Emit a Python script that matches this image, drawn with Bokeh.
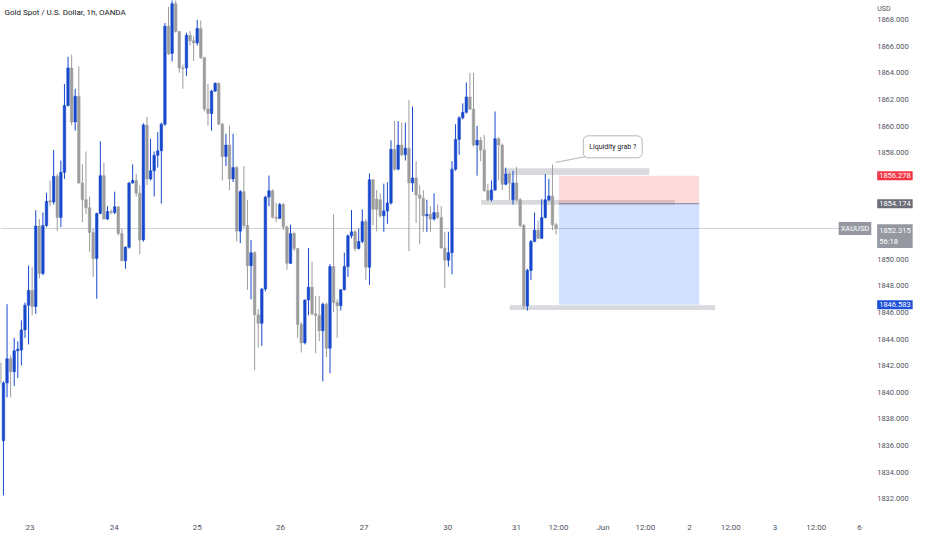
from bokeh.plotting import figure
from bokeh.models import Range1d, FixedTicker, ColumnDataSource
from bokeh.core.properties import value
from bokeh.embed import file_html
from bokeh.resources import INLINE

# ---------------- data (hourly XAUUSD candles) ----------------
opens = [
1842.2, 1836.36, 1840.70, 1842.52, 1841.55, 1843.12, 1843.17, 1844.69, 1846.55, 1847.66,
1846.45, 1852.49, 1848.92, 1852.54, 1854.40, 1854.30, 1856.24, 1853.14, 1856.53, 1861.55,
1864.38, 1860.32, 1862.25, 1855.73, 1854.47, 1853.87, 1852.01, 1850.05, 1853.43, 1856.28,
1853.02, 1853.58, 1853.51, 1853.94, 1851.94, 1849.88, 1850.90, 1855.73, 1855.92, 1854.96,
1851.45, 1860.08, 1856.04, 1856.65, 1857.81, 1858.15, 1860.15, 1867.52, 1865.46, 1869.21,
1867.11, 1864.38, 1864.38, 1866.84, 1866.43, 1866.26, 1867.35, 1865.15, 1861.29, 1860.95,
1862.64, 1863.22, 1860.15, 1857.73, 1858.58, 1856.04, 1856.89, 1852.11, 1855.08, 1852.54,
1849.52, 1850.49, 1845.83, 1845.18, 1847.76, 1854.67, 1855.15, 1853.15, 1853.07, 1854.11,
1852.42, 1849.69, 1851.94, 1850.80, 1845.10, 1843.72, 1846.94, 1847.90, 1845.90, 1845.78,
1844.62, 1846.62, 1843.31, 1849.45, 1846.74, 1846.50, 1847.71, 1849.45, 1851.77, 1852.06,
1850.80, 1851.33, 1852.83, 1849.40, 1855.97, 1854.52, 1854.47, 1853.26, 1853.63, 1854.23,
1858.26, 1856.77, 1858.58, 1857.85, 1858.34, 1855.73, 1856.11, 1854.83, 1854.59, 1853.26,
1853.38, 1853.02, 1853.51, 1853.14, 1850.85, 1849.93, 1850.49, 1856.77, 1859.01, 1860.63,
1861.04, 1862.20, 1861.28, 1858.58, 1858.94, 1858.22, 1855.15, 1854.47, 1855.20, 1859.06,
1858.58, 1855.63, 1856.40, 1854.47, 1855.73, 1854.47, 1852.54, 1846.50, 1849.16, 1851.33,
1852.18, 1851.57, 1853.14, 1854.47, 1854.76, 1852.59]

closes = [
1840.70, 1840.70, 1842.52, 1841.55, 1843.12, 1843.24, 1844.69, 1846.55, 1847.66, 1846.45,
1852.49, 1848.92, 1852.54, 1854.35, 1854.30, 1856.24, 1853.14, 1856.53, 1861.55, 1864.38,
1860.32, 1862.25, 1855.73, 1854.47, 1853.87, 1852.01, 1850.05, 1853.43, 1856.28, 1853.02,
1853.58, 1853.51, 1853.94, 1851.94, 1849.88, 1850.90, 1855.73, 1855.92, 1854.96, 1851.45,
1860.10, 1856.04, 1856.65, 1857.81, 1858.15, 1860.15, 1867.52, 1865.46, 1869.21, 1867.11,
1864.38, 1864.33, 1866.84, 1866.43, 1866.26, 1867.35, 1865.15, 1861.29, 1860.95, 1862.64,
1863.22, 1860.15, 1857.73, 1858.58, 1856.04, 1856.89, 1852.11, 1855.08, 1852.54, 1849.52,
1850.49, 1845.83, 1845.18, 1847.76, 1854.67, 1855.15, 1853.15, 1853.07, 1854.11, 1852.42,
1849.69, 1851.94, 1850.80, 1845.10, 1843.72, 1846.94, 1847.90, 1845.90, 1845.78, 1844.62,
1846.62, 1843.31, 1849.45, 1846.74, 1846.50, 1847.71, 1849.45, 1851.77, 1852.06, 1850.80,
1851.33, 1852.83, 1849.40, 1855.97, 1853.75, 1853.75, 1853.26, 1853.63, 1854.23, 1858.26,
1856.77, 1858.58, 1857.85, 1858.34, 1855.73, 1856.11, 1854.83, 1854.59, 1853.26, 1853.38,
1853.02, 1853.51, 1853.14, 1850.85, 1849.93, 1850.49, 1856.77, 1859.01, 1860.63, 1861.04,
1862.20, 1861.28, 1858.58, 1858.94, 1858.22, 1855.15, 1854.47, 1855.20, 1859.06, 1858.58,
1855.63, 1856.40, 1855.73, 1855.73, 1854.47, 1852.54, 1846.50, 1849.16, 1851.33, 1852.18,
1851.57, 1853.14, 1854.47, 1854.76, 1852.59, 1852.315]

highs = [
1842.40, 1840.82, 1846.62, 1842.76, 1844.09, 1843.84, 1845.41, 1846.74, 1849.52, 1849.40,
1853.68, 1853.02, 1853.51, 1855.00, 1855.92, 1858.22, 1856.41, 1857.42, 1863.17, 1865.22,
1865.39, 1862.81, 1864.50, 1857.13, 1858.10, 1854.71, 1852.30, 1853.51, 1858.87, 1857.25,
1853.99, 1853.75, 1855.08, 1853.99, 1852.30, 1850.97, 1855.80, 1857.13, 1856.41, 1855.56,
1860.22, 1860.71, 1859.06, 1858.10, 1859.55, 1860.27, 1867.76, 1868.97, 1869.90, 1869.70,
1867.16, 1864.62, 1867.03, 1867.16, 1866.79, 1868.00, 1867.95, 1865.22, 1863.17, 1862.74,
1863.29, 1863.29, 1860.27, 1859.43, 1860.03, 1859.43, 1857.01, 1855.20, 1857.01, 1854.47,
1851.45, 1850.61, 1846.26, 1847.83, 1854.76, 1856.29, 1855.25, 1854.23, 1854.23, 1854.23,
1852.54, 1852.59, 1852.06, 1850.85, 1845.29, 1846.98, 1850.85, 1849.83, 1847.23, 1847.23,
1846.74, 1846.74, 1849.64, 1853.38, 1846.98, 1847.76, 1850.49, 1851.86, 1853.70, 1852.18,
1852.30, 1853.75, 1853.02, 1856.45, 1856.04, 1855.20, 1854.95, 1855.68, 1855.80, 1858.94,
1860.39, 1860.39, 1860.27, 1860.27, 1861.96, 1861.48, 1857.37, 1855.56, 1855.20, 1854.47,
1853.99, 1854.95, 1854.11, 1853.99, 1852.06, 1852.06, 1857.37, 1860.15, 1860.75, 1861.72,
1863.29, 1864.01, 1864.01, 1860.03, 1859.18, 1859.35, 1855.68, 1855.92, 1861.11, 1859.18,
1858.70, 1856.89, 1856.53, 1856.65, 1856.94, 1854.59, 1852.66, 1849.28, 1851.45, 1853.51,
1852.90, 1854.52, 1856.40, 1856.04, 1857.13, 1852.73]

lows = [
1840.46, 1832.25, 1839.62, 1839.62, 1840.46, 1841.07, 1842.03, 1844.09, 1843.60, 1845.78,
1845.90, 1848.55, 1848.80, 1852.42, 1853.99, 1854.11, 1852.11, 1852.42, 1856.04, 1861.48,
1860.08, 1859.67, 1855.68, 1852.78, 1853.39, 1850.56, 1848.68, 1847.03, 1853.39, 1853.02,
1852.95, 1853.39, 1853.39, 1851.77, 1849.84, 1849.28, 1850.80, 1855.68, 1854.71, 1850.37,
1851.33, 1855.56, 1855.92, 1854.72, 1856.89, 1854.18, 1860.03, 1865.34, 1864.86, 1867.03,
1864.02, 1862.81, 1863.77, 1866.07, 1864.91, 1866.07, 1865.05, 1861.12, 1860.03, 1859.67,
1862.57, 1860.08, 1855.92, 1857.01, 1855.20, 1855.80, 1851.33, 1851.21, 1852.35, 1847.71,
1846.99, 1841.67, 1843.36, 1843.48, 1847.59, 1853.99, 1853.07, 1852.78, 1853.03, 1852.18,
1849.21, 1849.64, 1850.61, 1844.09, 1842.99, 1843.60, 1845.78, 1845.78, 1842.93, 1843.84,
1840.82, 1842.64, 1841.43, 1846.02, 1844.09, 1846.14, 1847.66, 1848.67, 1851.57, 1850.61,
1850.73, 1851.21, 1848.43, 1848.07, 1852.54, 1852.10, 1853.14, 1852.06, 1852.66, 1854.11,
1856.65, 1856.69, 1857.73, 1857.42, 1850.61, 1855.08, 1852.73, 1851.14, 1852.06, 1852.06,
1852.06, 1852.90, 1853.02, 1850.80, 1847.83, 1849.45, 1848.87, 1856.65, 1857.85, 1860.51,
1860.95, 1861.24, 1858.46, 1856.28, 1857.37, 1855.08, 1854.35, 1854.35, 1855.15, 1855.92,
1855.20, 1855.56, 1854.47, 1854.11, 1854.35, 1852.42, 1846.26, 1846.14, 1848.43, 1851.28,
1851.52, 1851.52, 1853.07, 1854.35, 1852.18, 1851.86]

# time axis labels (bar index where each label sits)
time_labels = ["23", "24", "25", "26", "27", "30", "31", "12:00", "Jun", "12:00", "2", "12:00", "3", "12:00", "6"]
time_label_bars = [8.4, 31.9, 55.0, 78.2, 101.5, 124.8, 144.0, 155.7, 168.1, 179.9, 192.2, 203.7, 216.0, 227.5, 239.6]

# price-scale tick labels (those hidden under price tags in the original are left out)
price_ticks = [1832, 1834, 1836, 1838, 1840, 1842, 1844, 1846, 1848, 1850, 1858, 1860, 1862, 1864, 1866, 1868]

# drawings: horizontal gray zones [left bar, right bar, top price, bottom price]
zone_left = [140.0, 134.1, 142.1]
zone_right = [181.0, 188.1, 199.3]
zone_top = [1856.84, 1854.45, 1846.55]
zone_bottom = [1856.33, 1854.10, 1846.19]

# short position tool
pos_left, pos_right = 155.8, 194.9
stop_price, entry_price, target_price = 1856.278, 1854.174, 1846.583

callout_text = "Liquidity grab ?"
callout_anchor = (154.9, 1857.28)
callout_corner = (164.5, 1857.78)
callout_center = (170.8, 1858.45)

title_text = "Gold Spot / U.S. Dollar, 1h, OANDA"
symbol = "XAUUSD"
countdown = "56:18"
currency = "USD"

# ---------------- helpers: reference-picture pixel -> data ----------------
def fx(px):
    return (px + 0.651) / 3.651

def fy(py):
    return 1868 - (py - 20) / 13.8

FONT = "'Liberation Sans Narrow', Roboto, sans-serif"
F = value(FONT)
TXT = "#50535e"
SCALE_X = 892      # left edge of the price-scale texts (reference pixels)

p = figure(width=916, height=534, output_backend="svg", toolbar_location=None,
           x_range=Range1d(fx(0), fx(932)), y_range=Range1d(fy(528), fy(0)),
           y_axis_location=None, min_border_left=0, min_border_top=0,
           min_border_right=0, min_border_bottom=20)
p.outline_line_color = None
p.grid.visible = False
p.background_fill_color = "white"
p.border_fill_color = "white"

xa = p.xaxis[0]
xa.ticker = FixedTicker(ticks=time_label_bars)
xa.major_label_overrides = {b: t for b, t in zip(time_label_bars, time_labels)}
xa.axis_line_color = None
xa.major_tick_line_color = None
xa.minor_tick_line_color = None
xa.major_label_standoff = 7
xa.major_label_text_font_size = "8px"
xa.major_label_text_color = TXT
xa.major_label_text_font = FONT

# current price line (behind everything)
last = closes[-1]
p.segment(x0=[fx(0)], y0=[last], x1=[fx(860)], y1=[last], line_color="#cfd1d6", line_width=1)

# gray horizontal zones
p.quad(left=zone_left, right=zone_right, top=zone_top, bottom=zone_bottom,
       fill_color="#787b86", fill_alpha=0.28, line_color=None)

# position tool
p.quad(left=[pos_left], right=[pos_right], top=[stop_price], bottom=[entry_price],
       fill_color="#f23645", fill_alpha=0.18, line_color=None)
p.quad(left=[pos_left], right=[pos_right], top=[entry_price], bottom=[target_price],
       fill_color="#2962ff", fill_alpha=0.2, line_color=None)
p.segment(x0=[pos_left], y0=[entry_price], x1=[pos_right], y1=[entry_price],
          line_color="#7d8499", line_width=1)

# candles
idx = list(range(len(opens)))
colors = ["#1848cc" if c >= o else "#9c9c9c" for o, c in zip(opens, closes)]
src = ColumnDataSource(dict(x=idx, h=highs, l=lows,
                            top=[max(o, c) for o, c in zip(opens, closes)],
                            bottom=[min(o, c) for o, c in zip(opens, closes)],
                            color=colors))
p.segment(x0="x", y0="h", x1="x", y1="l", line_color="color", line_width=1, source=src)
p.vbar(x="x", width=0.72, top="top", bottom="bottom", fill_color="color",
       line_color="color", line_width=0.5, source=src)

# callout
p.segment(x0=[callout_anchor[0]], y0=[callout_anchor[1]], x1=[callout_corner[0]], y1=[callout_corner[1]],
          line_color="#b2b5be", line_width=1)
p.text(x=[callout_center[0]], y=[callout_center[1]], text=[callout_text],
       text_font=F, text_font_size="7px", text_color="#131722",
       text_align="center", text_baseline="middle",
       background_fill_color="white", border_line_color="#b2b5be",
       border_line_width=1, border_radius=5, padding=(6, 7))

# title / currency
p.text(x=[fx(4)], y=[fy(12)], text=[title_text], text_font=F, text_font_size="8px",
       text_color="#131722", text_align="left", text_baseline="middle")
p.text(x=[fx(SCALE_X)], y=[fy(9)], text=[currency], text_font=F, text_font_size="7px",
       text_color=TXT, text_align="left", text_baseline="middle")

# price scale tick labels
p.text(x=[fx(SCALE_X)] * len(price_ticks), y=price_ticks, text=[f"{t:.3f}" for t in price_ticks],
       text_font=F, text_font_size="7.5px", text_color=TXT,
       text_align="left", text_baseline="middle")

# price tags on the scale
def tag(price, bg, text=None, xpx=SCALE_X, align="left"):
    p.text(x=[fx(xpx)], y=[price], text=[text if text is not None else f"{price:.3f}"],
           text_font=F, text_font_size="7.5px", text_color="white",
           text_align=align, text_baseline="middle",
           background_fill_color=bg, padding=2)

tag(stop_price, "#f23645")
tag(entry_price, "#6b6e78")
tag(target_price, "#1e4fd6")
tag(last, "#9598a1", text=symbol, xpx=SCALE_X - 6, align="right")
p.text(x=[fx(SCALE_X)], y=[fy(232)], text=[f"{last:.3f}\n{countdown}"],
       text_font=F, text_font_size="7.5px", text_color="white",
       text_align="left", text_baseline="top",
       background_fill_color="#9598a1", padding=2)

open("out.html", "w").write(file_html(p, INLINE))
